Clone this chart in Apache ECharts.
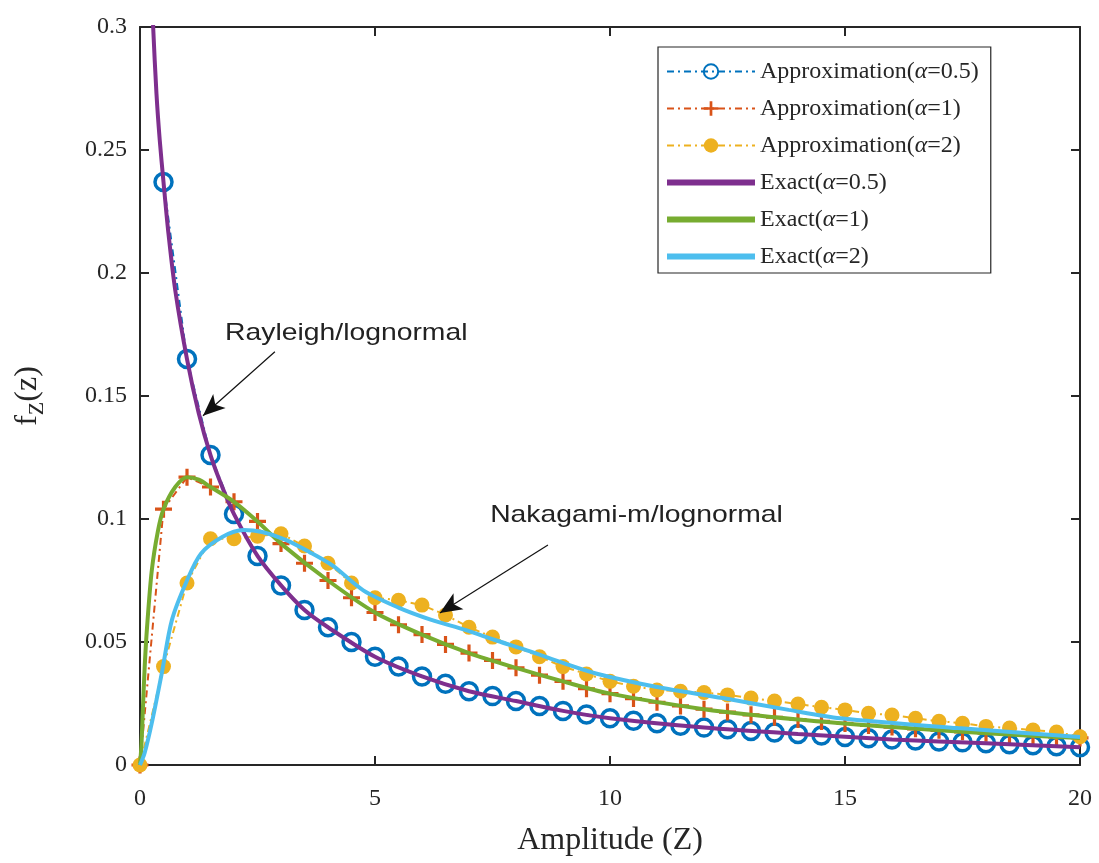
<!DOCTYPE html>
<html>
<head>
<meta charset="utf-8">
<script src="https://cdn.jsdelivr.net/npm/echarts@6/dist/echarts.min.js"></script>
<style>
  html, body { margin: 0; padding: 0; background: #fff; }
  #chart { width: 1099px; height: 863px; }
</style>
</head>
<body>
<div id="chart"></div>
<script>
// sample points of the approximations (every 0.5)
const approxX = [0, 0.5, 1, 1.5, 2, 2.5, 3, 3.5, 4, 4.5, 5, 5.5, 6, 6.5, 7, 7.5, 8, 8.5, 9, 9.5, 10,
  10.5, 11, 11.5, 12, 12.5, 13, 13.5, 14, 14.5, 15, 15.5, 16, 16.5, 17, 17.5, 18, 18.5, 19, 19.5, 20];
const approxA05 = [null, 0.237, 0.165, 0.126, 0.102, 0.085, 0.073, 0.063, 0.056, 0.050, 0.044, 0.040, 0.036,
  0.033, 0.030, 0.028, 0.026, 0.024, 0.022, 0.0205, 0.019, 0.018, 0.017, 0.016, 0.0152, 0.0145, 0.0138,
  0.0132, 0.0126, 0.012, 0.0114, 0.0109, 0.0104, 0.0100, 0.0096, 0.0092, 0.0088, 0.0084, 0.0080, 0.0076, 0.0072];
const approxA1 = [0, 0.104, 0.117, 0.113, 0.107, 0.099, 0.090, 0.082, 0.075, 0.068, 0.062, 0.057, 0.053,
  0.049, 0.0455, 0.0425, 0.0395, 0.0365, 0.034, 0.031, 0.029, 0.027, 0.0255, 0.024, 0.0227, 0.0215, 0.0204,
  0.0194, 0.0185, 0.0177, 0.0169, 0.0161, 0.0154, 0.0147, 0.0141, 0.0135, 0.0129, 0.0124, 0.0119, 0.0114, 0.011];
const approxA2 = [0, 0.040, 0.074, 0.092, 0.092, 0.093, 0.094, 0.089, 0.082, 0.074, 0.068, 0.067, 0.065,
  0.061, 0.056, 0.052, 0.048, 0.044, 0.040, 0.037, 0.034, 0.032, 0.0305, 0.030, 0.0295, 0.0285, 0.0272,
  0.026, 0.0248, 0.0235, 0.0224, 0.021, 0.0203, 0.019, 0.0178, 0.017, 0.0157, 0.015, 0.0142, 0.0134, 0.0115];

// exact curves, [z, f(z)]
const exactA05 = [[0.22, 0.33], [0.28, 0.30], [0.35, 0.273], [0.42, 0.254], [0.5, 0.237], [0.6, 0.217],
  [0.75, 0.193], [1, 0.165], [1.25, 0.143], [1.5, 0.126], [1.75, 0.113], [2, 0.102], [2.5, 0.085], [3, 0.073],
  [3.5, 0.063], [4, 0.056], [5, 0.044], [6, 0.036], [7, 0.030], [8, 0.026], [9, 0.022], [10, 0.019],
  [12, 0.0152], [14, 0.0126], [16, 0.0104], [18, 0.0088], [20, 0.0072]];
const exactA1 = [[0, 0], [0.03, 0.008], [0.06, 0.022], [0.1, 0.04], [0.15, 0.056], [0.25, 0.079],
  [0.38, 0.095], [0.5, 0.104], [0.75, 0.113], [1, 0.117], [1.25, 0.116], [1.5, 0.113], [2, 0.107],
  [2.5, 0.099], [3, 0.090], [4, 0.075], [5, 0.062], [6, 0.053], [7, 0.0455], [8, 0.0395], [9, 0.034],
  [10, 0.029], [12, 0.0227], [14, 0.0185], [16, 0.0154], [18, 0.0129], [20, 0.011]];
const exactA2 = [[0, 0], [0.1, 0.005], [0.25, 0.017], [0.47, 0.038], [0.68, 0.059], [1, 0.075],
  [1.3, 0.086], [1.75, 0.0927], [2.2, 0.0955], [2.6, 0.0947], [3.1, 0.0915], [3.6, 0.0866], [4.1, 0.081],
  [4.75, 0.071], [5.5, 0.064], [6.2, 0.059], [6.9, 0.055], [7.6, 0.0505], [8.3, 0.0462], [9, 0.0415],
  [9.7, 0.0372], [11, 0.0317], [12.4, 0.0272], [13.8, 0.0224], [14.9, 0.019], [17.4, 0.015], [20, 0.0114]];

const seriesNames = ['Approximation(α=0.5)', 'Approximation(α=1)', 'Approximation(α=2)',
  'Exact(α=0.5)', 'Exact(α=1)', 'Exact(α=2)'];

const serif = 'Liberation Serif';
const sans = 'Liberation Sans';
const ink = '#262626';

function pairs(ys) {
  return approxX.map((x, i) => [x, ys[i]]);
}

const plusPath = 'path://M6.5,0h3v6.5h6.5v3h-6.5v6.5h-3v-6.5h-6.5v-3h6.5z';
const barIcon = 'path://M0,0h88v6h-88z';
const dashDot = [7, 4, 2, 4];

function frameAxis(pos, isX) {
  return {
    type: 'value',
    position: pos,
    min: 0,
    max: isX ? 20 : 0.3,
    interval: isX ? 5 : 0.05,
    axisLine: { show: true, onZero: false, lineStyle: { color: ink, width: 2 } },
    axisTick: { show: true, inside: true, length: 9, lineStyle: { color: ink, width: 2 } },
    axisLabel: { show: false },
    splitLine: { show: false }
  };
}

var dom = document.getElementById('chart');
var myChart = echarts.init(dom, null, { renderer: 'canvas' });

var option = {
  animation: false,
  backgroundColor: '#fff',
  grid: { left: 140, right: 19, top: 27, bottom: 98 },
  xAxis: [
    Object.assign(frameAxis('bottom', true), {
      axisLabel: { show: true, fontFamily: serif, fontSize: 24, color: ink, margin: 22 },
      name: 'Amplitude (Z)',
      nameLocation: 'middle',
      nameGap: 60,
      nameTextStyle: { fontFamily: serif, fontSize: 32, color: ink }
    }),
    frameAxis('top', true)
  ],
  yAxis: [
    Object.assign(frameAxis('left', false), {
      axisLabel: { show: true, fontFamily: serif, fontSize: 24, color: ink, margin: 13 },
      name: '{f|f}{s|Z}{f|(z)}',
      nameLocation: 'middle',
      nameGap: 92,
      nameTextStyle: {
        color: ink,
        rich: {
          f: { fontFamily: serif, fontSize: 32, lineHeight: 40, color: ink },
          s: { fontFamily: serif, fontSize: 22, lineHeight: 20, verticalAlign: 'bottom', color: ink }
        }
      }
    }),
    frameAxis('right', false)
  ],
  legend: {
    orient: 'vertical',
    left: 658,
    top: 47,
    data: [
      { name: seriesNames[0] },
      { name: seriesNames[1] },
      { name: seriesNames[2] },
      { name: seriesNames[3], icon: barIcon },
      { name: seriesNames[4], icon: barIcon },
      { name: seriesNames[5], icon: barIcon }
    ],
    itemWidth: 88,
    itemHeight: 18,
    itemGap: 10,
    padding: [11, 12, 3, 8],
    backgroundColor: '#fff',
    borderColor: ink,
    borderWidth: 1.2,
    borderRadius: 0,
    textStyle: { fontFamily: serif, fontSize: 24, lineHeight: 27, color: ink,
      rich: { i: { fontFamily: serif, fontStyle: 'italic', fontSize: 24, color: ink } } },
    formatter: function (name) {
      return name.replace('α', '{i|α}');
    }
  },
  series: [
    {
      name: seriesNames[0], type: 'line', data: pairs(approxA05), z: 2,
      symbol: 'circle', symbolSize: 17, showAllSymbol: true,
      itemStyle: { color: 'rgba(0,0,0,0)', borderColor: '#0072BD', borderWidth: 3.5 },
      lineStyle: { color: '#0072BD', width: 2, type: dashDot },
      markLine: {
        silent: true,
        symbol: ['none', 'arrow'],
        symbolSize: [14, 22],
        label: { show: false },
        lineStyle: { color: '#111', width: 1.2, type: 'solid' },
        data: [
          [{ coord: [2.87, 0.168] }, { coord: [1.34, 0.142] }],
          [{ coord: [8.68, 0.0894] }, { coord: [6.38, 0.0618] }]
        ]
      }
    },
    {
      name: seriesNames[1], type: 'line', data: pairs(approxA1), z: 2,
      symbol: plusPath, symbolSize: 17, showAllSymbol: true,
      itemStyle: { color: '#D95319' },
      lineStyle: { color: '#D95319', width: 2, type: dashDot }
    },
    {
      name: seriesNames[2], type: 'line', data: pairs(approxA2), z: 2,
      symbol: 'circle', symbolSize: 15, showAllSymbol: true,
      itemStyle: { color: '#EDB120' },
      lineStyle: { color: '#EDB120', width: 2, type: dashDot }
    },
    {
      name: seriesNames[3], type: 'line', data: exactA05, smooth: 0.3, z: 4,
      symbol: 'none', lineStyle: { color: '#7E2F8E', width: 4 }, itemStyle: { color: '#7E2F8E' }
    },
    {
      name: seriesNames[4], type: 'line', data: exactA1, smooth: 0.3, z: 4,
      symbol: 'none', lineStyle: { color: '#77AC30', width: 4 }, itemStyle: { color: '#77AC30' }
    },
    {
      name: seriesNames[5], type: 'line', data: exactA2, smooth: 0.3, z: 4,
      symbol: 'none', lineStyle: { color: '#4DBEEE', width: 4 }, itemStyle: { color: '#4DBEEE' }
    }
  ]
};

myChart.setOption(option);

// annotation texts, placed in data coordinates
const notes = [
  { text: 'Rayleigh/lognormal', at: [1.81, 0.1756] },
  { text: 'Nakagami-m/lognormal', at: [7.45, 0.1016] }
];
myChart.setOption({
  graphic: notes.map(function (n) {
    const p = myChart.convertToPixel({ gridIndex: 0 }, n.at);
    return {
      type: 'text', x: p[0], y: p[1], scaleX: 1.18, silent: true, z: 10,
      style: { text: n.text, fontFamily: sans, fontSize: 24, fill: '#222', verticalAlign: 'middle' }
    };
  })
});
window.addEventListener('resize', myChart.resize);
</script>
</body>
</html>
